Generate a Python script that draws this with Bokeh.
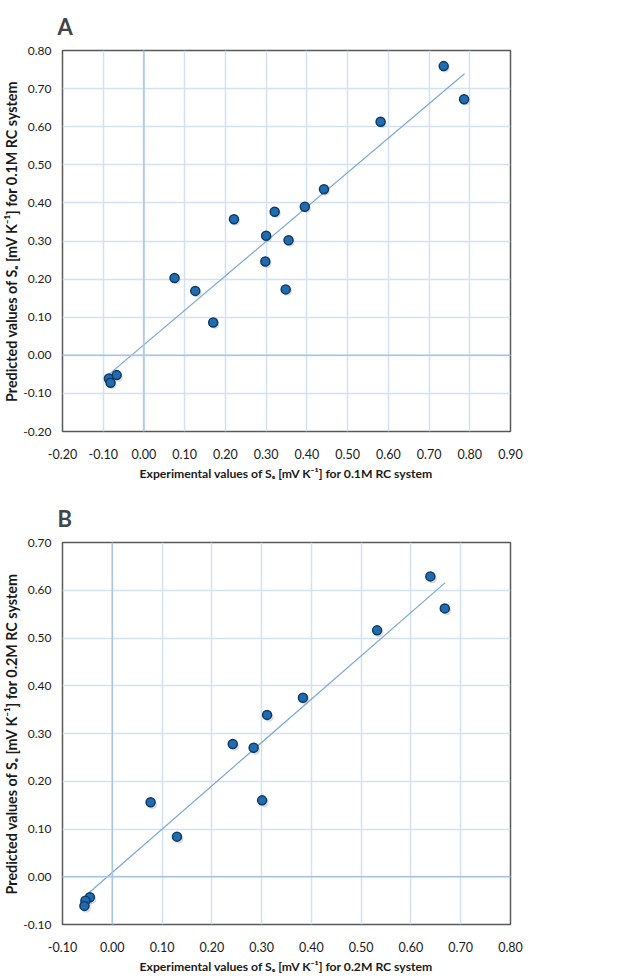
from bokeh.plotting import figure
from bokeh.models import Range1d, FixedTicker, NumeralTickFormatter, Span
from bokeh.layouts import column
from bokeh.embed import file_html
from bokeh.resources import INLINE

# ---- data ----
a_exp = [0.221, 0.321, 0.395, 0.300, 0.355, 0.298, 0.075, 0.126, 0.348, 0.170,
         -0.086, -0.082, -0.067, 0.442, 0.581, 0.736, 0.786]
a_pred = [0.357, 0.377, 0.390, 0.314, 0.302, 0.246, 0.203, 0.169, 0.173, 0.086,
          -0.061, -0.072, -0.052, 0.436, 0.613, 0.759, 0.672]
a_trend_x = [-0.086, 0.787]
a_trend_y = [-0.050, 0.739]
a_xticks = [-0.2, -0.1, 0.0, 0.1, 0.2, 0.3, 0.4, 0.5, 0.6, 0.7, 0.8, 0.9]
a_yticks = [-0.2, -0.1, 0.0, 0.1, 0.2, 0.3, 0.4, 0.5, 0.6, 0.7, 0.8]

b_exp = [0.639, 0.668, 0.532, 0.383, 0.311, 0.242, 0.284, 0.301, 0.077, 0.130,
         -0.045, -0.054, -0.056]
b_pred = [0.629, 0.562, 0.516, 0.375, 0.339, 0.278, 0.270, 0.160, 0.156, 0.084,
          -0.043, -0.050, -0.061]
b_trend_x = [-0.056, 0.669]
b_trend_y = [-0.042, 0.616]
b_xticks = [-0.1, 0.0, 0.1, 0.2, 0.3, 0.4, 0.5, 0.6, 0.7, 0.8]
b_yticks = [-0.1, 0.0, 0.1, 0.2, 0.3, 0.4, 0.5, 0.6, 0.7]

FONT = "Lato, DejaVu Sans"
GRID = "#d3e1f1"
ZERO = "#a9c5e6"
TREND = "#7aa6da"
PT_FILL = "#1f6db0"
PT_LINE = "#0e3a63"


def panel(letter, xs, ys, tx, ty, xticks, yticks, xlabel, ylabel, height, top, bottom, tstand):
    p = figure(width=618, height=height, output_backend="svg", toolbar_location=None,
               x_range=Range1d(xticks[0], xticks[-1]), y_range=Range1d(yticks[0], yticks[-1]),
               min_border_left=62, min_border_right=108, min_border_top=top,
               min_border_bottom=bottom)
    p.title.text = letter
    p.title.text_font = FONT
    p.title.text_font_size = "22px"
    p.title.text_font_style = "bold"
    p.title.offset = -5
    p.title.standoff = tstand
    p.outline_line_color = "#595959"
    p.outline_line_width = 1.5
    p.background_fill_color = "white"
    p.border_fill_color = "white"
    for ax, ticks in ((p.xaxis, xticks), (p.yaxis, yticks)):
        ax.ticker = FixedTicker(ticks=ticks)
        ax.formatter = NumeralTickFormatter(format="0.00")
        ax.major_tick_line_color = None
        ax.minor_tick_line_color = None
        ax.major_tick_out = 0
        ax.major_tick_in = 0
        ax.axis_line_color = None
        ax.major_label_text_font = FONT
        ax.major_label_text_font_size = "12.5px"
        ax.major_label_text_color = "#1a1a1a"
        ax.axis_label_text_font = FONT
        ax.axis_label_text_font_style = "bold"
        ax.axis_label_text_color = "#1a1a1a"
    p.yaxis.major_label_text_font_size = "12px"
    p.xaxis.axis_label_text_font_size = "12.2px"
    p.yaxis.axis_label_text_font_size = "14.3px"
    p.xaxis.major_label_standoff = 17
    p.yaxis.major_label_standoff = 11
    p.xaxis.axis_label = xlabel
    p.yaxis.axis_label = ylabel
    p.xaxis.axis_label_standoff = 4
    p.yaxis.axis_label_standoff = 0
    p.xgrid.grid_line_color = GRID
    p.ygrid.grid_line_color = GRID
    p.xgrid.grid_line_width = 1.5
    p.ygrid.grid_line_width = 1.5
    p.add_layout(Span(location=0, dimension="width", line_color=ZERO, line_width=1.5))
    p.add_layout(Span(location=0, dimension="height", line_color=ZERO, line_width=1.5))
    p.line(tx, ty, line_color=TREND, line_width=1.2)
    p.scatter([x + 0.004 for x in xs], [y - 0.005 for y in ys], size=9,
              fill_color="#9a9a9a", fill_alpha=0.35, line_color=None)
    p.scatter(xs, ys, size=9, fill_color=PT_FILL, line_color=PT_LINE, line_width=1.5)
    return p


pa = panel("A", a_exp, a_pred, a_trend_x, a_trend_y, a_xticks, a_yticks,
           "Experimental values of Sₑ [mV K⁻¹] for 0.1M RC system",
           "Predicted values of Sₑ [mV K⁻¹] for 0.1M RC system",
           490, 50, 59, 21)
pb = panel("B", b_exp, b_pred, b_trend_x, b_trend_y, b_xticks, b_yticks,
           "Experimental values of Sₑ [mV K⁻¹] for 0.2M RC system",
           "Predicted values of Sₑ [mV K⁻¹] for 0.2M RC system",
           486, 52, 52, 22)

layout = column(pa, pb, spacing=0)
open("out.html", "w").write(file_html(layout, INLINE))
